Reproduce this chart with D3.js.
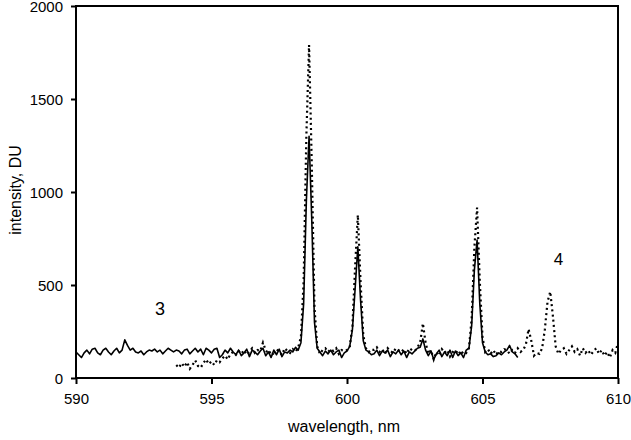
<!DOCTYPE html>
<html>
<head>
<meta charset="utf-8">
<script src="https://cdn.jsdelivr.net/npm/d3@7"></script>
<style>
  body { margin: 0; background: #fff; }
  text { font-family: "Liberation Sans", Arial, sans-serif; fill: #000; }
</style>
</head>
<body>
<div class="chart"></div>
<script>
// spectra sampled every 0.1 nm
var stepNm = 0.1;

// curve 3 (solid), 590.0 .. 606.3 nm
var solidStart = 590.0;
var solidValues = [
  140, 125, 110, 135, 150, 130, 155, 160, 135, 125,
  150, 160, 140, 125, 145, 160, 135, 150, 205, 175,
  150, 160, 140, 135, 145, 125, 140, 150, 145, 155,
  140, 150, 130, 145, 160, 150, 140, 150, 145, 130,
  150, 155, 130, 145, 160, 140, 155, 125, 160, 150,
  135, 155, 160, 110, 125, 150, 135, 160, 140, 125,
  150, 120, 135, 155, 115, 150, 140, 125, 145, 160,
  120, 140, 110, 150, 125, 155, 115, 140, 135, 150,
  140, 165, 150, 190, 400, 950, 1300, 850, 300, 160,
  140, 120, 145, 130, 150, 125, 140, 150, 110, 135,
  145, 170, 260, 480, 706, 420, 200, 150, 140, 125,
  130, 150, 120, 145, 135, 150, 115, 140, 130, 150,
  125, 145, 110, 140, 130, 145, 160, 165, 210, 150,
  120, 145, 100, 130, 150, 115, 140, 120, 150, 110,
  145, 120, 135, 110, 150, 160, 280, 580, 742, 400,
  190, 140, 125, 130, 115, 120, 135, 125, 140, 150,
  175, 140, 130, 110
];

// curve 4 (dotted), 593.7 .. 610.0 nm
var dottedStart = 593.7;
var dottedValues = [
  70, 55, 80,
  60, 85, 50, 70, 95, 65, 55, 80, 100, 75,
  90, 70, 95, 85, 105, 120, 100, 130, 140, 125,
  145, 130, 150, 125, 140, 160, 135, 150, 145, 190,
  150, 130, 145, 120, 155, 140, 125, 160, 145, 135,
  155, 140, 165, 220, 520, 1300, 1790, 1150, 380, 170,
  130, 150, 160, 140, 155, 145, 160, 130, 150, 145,
  150, 165, 280, 600, 876, 520, 230, 160, 140, 155,
  150, 165, 140, 155, 130, 160, 145, 135, 160, 150,
  140, 155, 130, 160, 150, 145, 165, 190, 294, 190,
  130, 150, 100, 140, 120, 155, 135, 150, 115, 140,
  130, 150, 125, 145, 135, 160, 320, 700, 916, 520,
  220, 140, 155, 130, 150, 125, 145, 140, 155, 150,
  130, 150, 135, 160, 140, 150, 180, 263, 200, 120,
  135, 130, 160, 260, 410, 464, 330, 170, 130, 150,
  160, 130, 150, 170, 140, 155, 120, 160, 135, 150,
  125, 145, 160, 130, 150, 120, 140, 110, 150, 135,
  190
];

var xTicks = [590, 595, 600, 605, 610];
var yTicks = [0, 500, 1000, 1500, 2000];
var labels = [
  { text: "3", wl: 593.1, val: 340, size: 18 },
  { text: "4", wl: 607.8, val: 610, size: 17 }
];

var width = 631, height = 440;
var plot = { left: 76, right: 618, top: 6, bottom: 378 };

var svg = d3
  .select(".chart")
  .append("svg")
  .attr("width", width)
  .attr("height", height);

var x = d3.scaleLinear().domain([590, 610]).range([plot.left, plot.right]);
var y = d3.scaleLinear().domain([0, 2000]).range([plot.bottom, plot.top]);

function toPoints(start, values) {
  return values.map(function (v, i) {
    return [start + i * stepNm, v];
  });
}

var line = d3
  .line()
  .x(function (d) { return x(d[0]); })
  .y(function (d) { return y(d[1]); });

// axes
var xAxis = svg
  .append("g")
  .attr("transform", "translate(0," + plot.bottom + ")")
  .call(
    d3.axisBottom(x).tickValues(xTicks).tickFormat(d3.format("d"))
      .tickSize(6).tickSizeOuter(0).tickPadding(9)
  );
var yAxis = svg
  .append("g")
  .attr("transform", "translate(" + plot.left + ",0)")
  .call(
    d3.axisLeft(y).tickValues(yTicks).tickFormat(d3.format("d"))
      .tickSize(5).tickSizeOuter(0).tickPadding(8)
  );

[xAxis, yAxis].forEach(function (g) {
  g.select(".domain").remove();
  g.selectAll("line").attr("stroke", "#000").attr("stroke-width", 2);
  g.selectAll("text")
    .style("font-family", '"Liberation Sans", Arial, sans-serif')
    .style("font-size", "15px")
    .attr("fill", "#000");
});
yAxis.selectAll("text").attr("dy", "0.36em");

svg
  .append("rect")
  .attr("x", plot.left)
  .attr("y", plot.top)
  .attr("width", plot.right - plot.left)
  .attr("height", plot.bottom - plot.top)
  .attr("fill", "none")
  .attr("stroke", "#000")
  .attr("stroke-width", 2);

// spectra
svg
  .append("path")
  .attr("d", line(toPoints(solidStart, solidValues)))
  .attr("fill", "none")
  .attr("stroke", "#000")
  .attr("stroke-width", 1.6)
  .attr("stroke-linejoin", "round");

svg
  .append("path")
  .attr("d", line(toPoints(dottedStart, dottedValues)))
  .attr("fill", "none")
  .attr("stroke", "#000")
  .attr("stroke-width", 2.2)
  .attr("stroke-dasharray", "2,3.2");

// curve numbers
svg
  .selectAll(".curve-label")
  .data(labels)
  .enter()
  .append("text")
  .attr("class", "curve-label")
  .attr("x", function (d) { return x(d.wl); })
  .attr("y", function (d) { return y(d.val); })
  .attr("text-anchor", "middle")
  .style("font-size", function (d) { return d.size + "px"; })
  .text(function (d) { return d.text; });

// axis titles
svg
  .append("text")
  .attr("x", 344)
  .attr("y", 432)
  .attr("text-anchor", "middle")
  .style("font-size", "16px")
  .text("wavelength, nm");

svg
  .append("text")
  .attr("transform", "translate(21,190) rotate(-90)")
  .attr("text-anchor", "middle")
  .style("font-size", "16px")
  .text("intensity, DU");
</script>
</body>
</html>
